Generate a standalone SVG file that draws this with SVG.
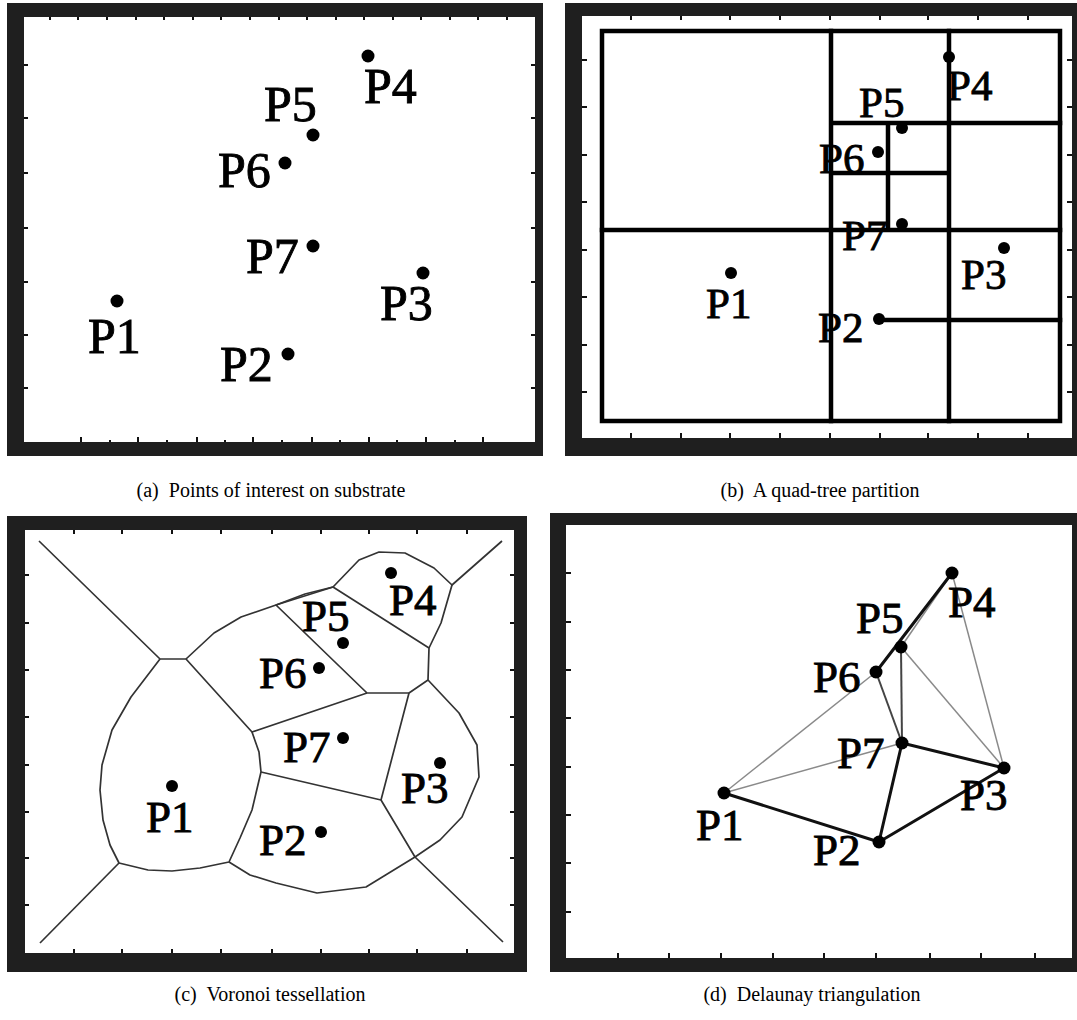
<svg xmlns="http://www.w3.org/2000/svg" width="1077" height="1020" viewBox="0 0 1077 1020">
<style>
.frame{fill:#1f1f1f}
.inner{fill:#ffffff}
.tick{stroke:#111;stroke-width:2;fill:none}
.lbl{font-family:"Liberation Serif","Times New Roman",serif;fill:#000;stroke:#000;stroke-width:0.9}
.la{font-size:50px}
.lb{font-size:43px}
.lc{font-size:45px}
.cap{font-family:"Liberation Serif","Times New Roman",serif;font-size:20px;fill:#000;text-anchor:middle}
.dot{fill:#000}
.quad{stroke:#000;stroke-width:4.5;fill:none;stroke-linecap:square}
.vor{stroke:#333;stroke-width:1.7;fill:none;stroke-linejoin:round}
.dk{stroke:#111;stroke-width:3;fill:none;stroke-linecap:round}
.md{stroke:#444;stroke-width:2;fill:none}
.lt{stroke:#8a8a8a;stroke-width:1.5;fill:none}
</style>

<!-- Panel (a) -->
<g id="panel-a">
  <rect class="frame" x="7" y="3" width="536" height="453"/>
  <rect class="inner" x="24" y="17" width="511" height="425"/>
  <path class="tick" d="M24 65h4M24 118h4M24 173h4M24 228h4M24 282h4M24 335h4M24 388h4
    M531 65h4M531 118h4M531 173h4M531 228h4M531 282h4M531 335h4M531 388h4
    M81 442v-5M138 442v-5M197 442v-5M253 442v-5M312 442v-5M369 442v-5M426 442v-5M483 442v-5
    M110 442v-2M167 442v-2M225 442v-2M282 442v-2M340 442v-2M397 442v-2M455 442v-2
    M50 17v3M78 17v3M107 17v3M136 17v3M164 17v3M193 17v3M221 17v3M250 17v3M279 17v3M307 17v3M336 17v3M364 17v3M393 17v3M421 17v3M450 17v3M478 17v3M507 17v3"/>
  <g id="a-P1"><circle class="dot" cx="117" cy="301" r="6.5"/><text class="lbl la" x="88" y="353">P1</text></g>
  <g id="a-P2"><circle class="dot" cx="288" cy="354" r="6.5"/><text class="lbl la" x="220" y="381">P2</text></g>
  <g id="a-P3"><circle class="dot" cx="423" cy="273" r="6.5"/><text class="lbl la" x="380" y="320">P3</text></g>
  <g id="a-P4"><circle class="dot" cx="368" cy="56" r="6.5"/><text class="lbl la" x="364" y="103">P4</text></g>
  <g id="a-P5"><circle class="dot" cx="313" cy="135" r="6.5"/><text class="lbl la" x="264" y="121">P5</text></g>
  <g id="a-P6"><circle class="dot" cx="285" cy="163" r="6.5"/><text class="lbl la" x="218" y="187">P6</text></g>
  <g id="a-P7"><circle class="dot" cx="313" cy="246" r="6.5"/><text class="lbl la" x="246" y="273">P7</text></g>
  <text class="cap" x="271" y="497" xml:space="preserve">(a)  Points of interest on substrate</text>
</g>

<!-- Panel (b) -->
<g id="panel-b">
  <rect class="frame" x="565" y="3" width="512" height="453"/>
  <rect class="inner" x="582" y="16" width="490" height="422"/>
  <path class="tick" d="M582 60h5M582 107h5M582 155h5M582 202h5M582 250h5M582 297h5M582 345h5M582 392h5
    M1067 60h5M1067 107h5M1067 155h5M1067 202h5M1067 250h5M1067 297h5M1067 345h5M1067 392h5
    M631 16v4M681 16v4M730 16v4M780 16v4M830 16v4M880 16v4M928 16v4M978 16v4M1028 16v4
    M631 438v-5M681 438v-5M730 438v-5M780 438v-5M830 438v-5M880 438v-5M928 438v-5M978 438v-5M1028 438v-5"/>
  <g id="b-connectors">
    <rect class="quad" x="602" y="31" width="458" height="390"/>
    <path class="quad" d="M831 31V421M949 31V421M602 230H1060M831 123H1060M878 320H1060M888 123V230M831 173H949"/>
  </g>
  <g id="b-P1"><circle class="dot" cx="731" cy="273" r="6"/><text class="lbl lb" x="706" y="318">P1</text></g>
  <g id="b-P2"><text class="lbl lb" x="818" y="342">P2</text><circle class="dot" cx="879" cy="319" r="6"/></g>
  <g id="b-P3"><circle class="dot" cx="1004" cy="248" r="6"/><text class="lbl lb" x="961" y="289">P3</text></g>
  <g id="b-P4"><circle class="dot" cx="949" cy="57" r="6"/><text class="lbl lb" x="947" y="100">P4</text></g>
  <g id="b-P5"><circle class="dot" cx="902" cy="128" r="6"/><text class="lbl lb" x="859" y="117">P5</text></g>
  <g id="b-P6"><text class="lbl lb" x="819" y="173">P6</text><circle class="dot" cx="878" cy="152" r="6"/></g>
  <g id="b-P7"><text class="lbl lb" x="842" y="250">P7</text><circle class="dot" cx="902" cy="224" r="6"/></g>
  <text class="cap" x="820" y="497" xml:space="preserve">(b)  A quad-tree partition</text>
</g>

<!-- Panel (c) -->
<g id="panel-c">
  <rect class="frame" x="7" y="516" width="520" height="456"/>
  <rect class="inner" x="25" y="530" width="489" height="423"/>
  <path class="tick" d="M25 575h4M25 623h4M25 670h4M25 717h4M25 765h4M25 812h4M25 858h4M25 905h4
    M510 575h4M510 623h4M510 670h4M510 717h4M510 765h4M510 812h4M510 858h4M510 905h4
    M74 530v4M122 530v4M172 530v4M221 530v4M272 530v4M321 530v4M369 530v4M417 530v4M467 530v4
    M74 953v-4M122 953v-4M172 953v-4M221 953v-4M272 953v-4M321 953v-4M369 953v-4M417 953v-4M467 953v-4"/>
  <g id="c-connectors">
    <polyline class="vor" points="39,541 160,659 186,659 252,732 367,693 409,693 428,680 429,648 333,587 276,605 367,693"/>
    <polyline class="vor" points="160,659 131,697 112,730 102,765 100,790 103,820 110,845 119,863 148,870 172,871 200,868 229,862 240,838 252,810 261,772 259,752 252,732"/>
    <polyline class="vor" points="119,863 40,943"/>
    <polyline class="vor" points="186,659 214,633 241,617 276,605 305,594 333,587 359,560 379,552 405,553 434,568 452,585 502,541"/>
    <polyline class="vor" points="452,585 441,623 429,648"/>
    <polyline class="vor" points="261,772 381,800 409,693"/>
    <polyline class="vor" points="381,800 415,857 503,942"/>
    <polyline class="vor" points="428,680 459,713 477,745 479,777 462,817 440,840 415,857"/>
    <polyline class="vor" points="229,862 250,875 276,883 317,893 366,887 415,857"/>
  </g>
  <g id="c-P1"><circle class="dot" cx="172" cy="786" r="6"/><text class="lbl lc" x="146" y="832">P1</text></g>
  <g id="c-P2"><circle class="dot" cx="321" cy="832" r="6"/><text class="lbl lc" x="259" y="855">P2</text></g>
  <g id="c-P3"><circle class="dot" cx="440" cy="763" r="6"/><text class="lbl lc" x="401" y="803">P3</text></g>
  <g id="c-P4"><circle class="dot" cx="391" cy="573" r="6"/><text class="lbl lc" x="389" y="615">P4</text></g>
  <g id="c-P5"><circle class="dot" cx="343" cy="643" r="6"/><text class="lbl lc" x="302" y="631">P5</text></g>
  <g id="c-P6"><circle class="dot" cx="319" cy="668" r="6"/><text class="lbl lc" x="259" y="688">P6</text></g>
  <g id="c-P7"><circle class="dot" cx="343" cy="738" r="6"/><text class="lbl lc" x="283" y="762">P7</text></g>
  <text class="cap" x="270" y="1001" xml:space="preserve">(c)  Voronoi tessellation</text>
</g>

<!-- Panel (d) -->
<g id="panel-d">
  <rect class="frame" x="550" y="513" width="527" height="459"/>
  <rect class="inner" x="566" y="525" width="506" height="433"/>
  <path class="tick" d="M566 573h5M566 622h5M566 670h5M566 718h5M566 767h5M566 815h5M566 863h5M566 912h5
    M618 958v-5M669 958v-5M721 958v-5M773 958v-5M824 958v-5M876 958v-5M930 958v-5M981 958v-5M1035 958v-5"/>
  <g id="d-connectors">
    <line class="lt" x1="724" y1="793" x2="876" y2="672"/>
    <line class="lt" x1="724" y1="793" x2="902" y2="743"/>
    <line class="lt" x1="901" y1="647" x2="1004" y2="768"/>
    <line class="lt" x1="952" y1="573" x2="1004" y2="768"/>
    <line class="lt" x1="952" y1="573" x2="901" y2="647"/>
    <line class="md" x1="876" y1="672" x2="902" y2="743"/>
    <line class="md" x1="901" y1="647" x2="902" y2="743"/>
    <line class="dk" x1="724" y1="793" x2="879" y2="842"/>
    <line class="dk" x1="879" y1="842" x2="1004" y2="768"/>
    <line class="dk" x1="879" y1="842" x2="902" y2="743"/>
    <line class="dk" x1="902" y1="743" x2="1004" y2="768"/>
    <line class="dk" x1="876" y1="672" x2="952" y2="573"/>
  </g>
  <g id="d-P1"><circle class="dot" cx="724" cy="793" r="6.5"/><text class="lbl lc" x="696" y="840">P1</text></g>
  <g id="d-P2"><circle class="dot" cx="879" cy="842" r="6.5"/><text class="lbl lc" x="813" y="865">P2</text></g>
  <g id="d-P3"><circle class="dot" cx="1004" cy="768" r="6.5"/><text class="lbl lc" x="960" y="810">P3</text></g>
  <g id="d-P4"><circle class="dot" cx="952" cy="573" r="6.5"/><text class="lbl lc" x="948" y="617">P4</text></g>
  <g id="d-P5"><circle class="dot" cx="901" cy="647" r="6.5"/><text class="lbl lc" x="856" y="633">P5</text></g>
  <g id="d-P6"><circle class="dot" cx="876" cy="672" r="6.5"/><text class="lbl lc" x="813" y="692">P6</text></g>
  <g id="d-P7"><circle class="dot" cx="902" cy="743" r="6.5"/><text class="lbl lc" x="837" y="768">P7</text></g>
  <text class="cap" x="812" y="1001" xml:space="preserve">(d)  Delaunay triangulation</text>
</g>
</svg>
